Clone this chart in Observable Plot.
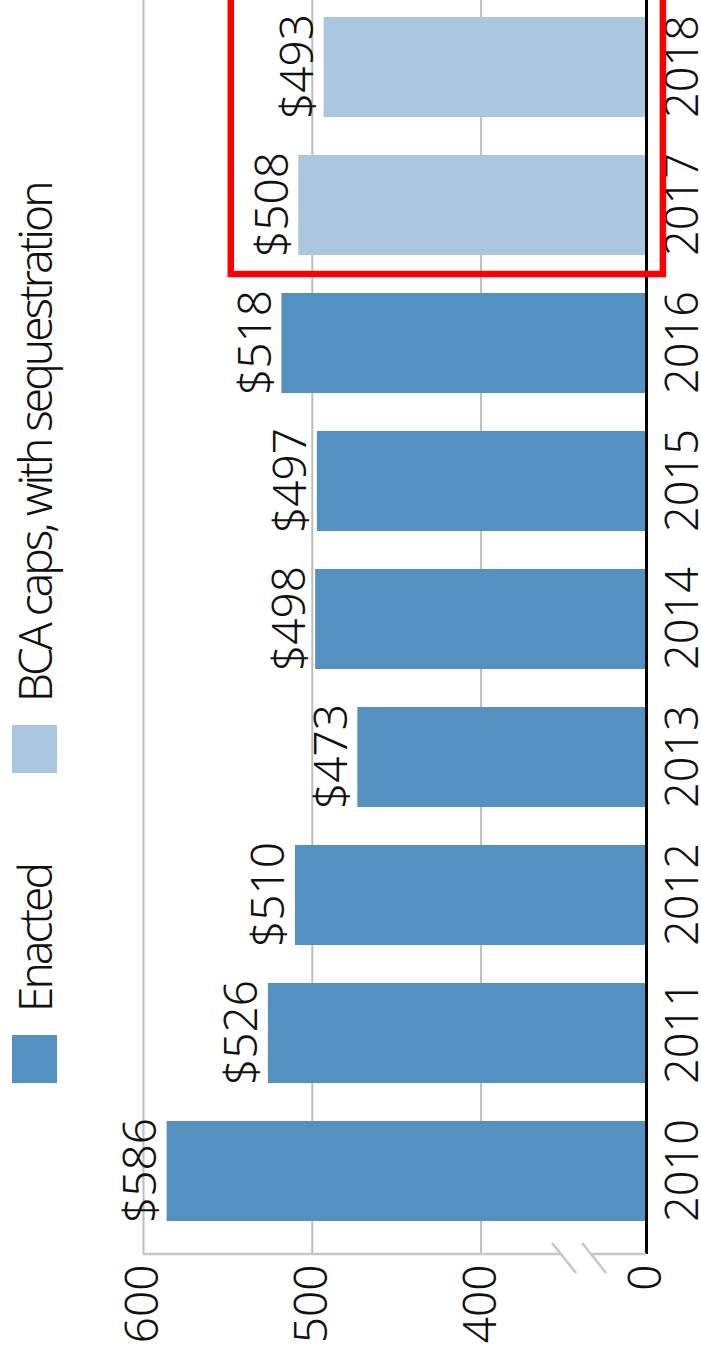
<!DOCTYPE html>
<html>
<head>
<meta charset="utf-8">
<script src="https://cdn.jsdelivr.net/npm/d3@7"></script>
<script src="https://cdn.jsdelivr.net/npm/@observablehq/plot@0.6"></script>
<style>
  html, body { margin: 0; padding: 0; background: #fff; }
  body { width: 701px; height: 1358px; overflow: hidden; position: relative; }
  #wrap {
    position: absolute; left: 0; top: 0; width: 1358px; height: 701px;
    transform-origin: 0 0; transform: translate(0px, 1358px) rotate(-90deg);
    font-family: "Noto Sans", sans-serif; font-stretch: condensed; font-weight: 300;
    color: #111;
  }
  #wrap svg text { font-stretch: condensed; font-weight: 300; }
  #legend { position: relative; height: 70px; }
  .item { position: absolute; top: 12px; display: flex; align-items: center; height: 45px; }
  .sw { width: 48px; height: 45px; margin-right: 23px; }
  .lab { font-size: 46px; line-height: 45px; white-space: nowrap; letter-spacing: -3px; }
</style>
</head>
<body>
<div id="wrap">
  <div id="legend"></div>
  <div id="chart"></div>
</div>
<script>
// ---- data ----
const years = ["2010", "2011", "2012", "2013", "2014", "2015", "2016", "2017", "2018"];
const values = [586, 526, 510, 473, 498, 497, 518, 508, 493];
const status = ["Enacted", "Enacted", "Enacted", "Enacted", "Enacted", "Enacted", "Enacted",
                "BCA caps, with sequestration", "BCA caps, with sequestration"];
const seriesNames = ["Enacted", "BCA caps, with sequestration"];
const seriesColors = ["#5591c0", "#aac7df"];
const yTickValues = [0, 400, 500, 600];
const gridValues = [400, 500, 600];
const axisFloor = 302;            // value where the broken axis starts (labelled 0)
const breakValues = [352.3, 334.5]; // axis-break slash positions
const highlightYears = ["2017", "2018"];
const highlightTop = 548;
const highlightBottom = 292;

const data = years.map((year, i) => ({year, value: values[i], status: status[i]}));

// ---- legend ----
const legendLeft = [275, 585];
const legend = d3.select("#legend");
seriesNames.forEach((name, i) => {
  const it = legend.append("div").attr("class", "item").style("left", legendLeft[i] + "px");
  it.append("div").attr("class", "sw").style("background", seriesColors[i]);
  it.append("div").attr("class", "lab").text(name);
});

// ---- chart ----
const font = '"Noto Sans", sans-serif';
const tickPos = yTickValues.map(v => v === 0 ? axisFloor : v);

const plot = Plot.plot({
  width: 1358,
  height: 631,
  marginLeft: 104,
  marginRight: 0,
  marginTop: 73,
  marginBottom: 55,
  style: {fontFamily: font, fontSize: "46px", background: "#fff", color: "#111", overflow: "visible"},
  x: {domain: years, range: [97, 1380], padding: 0.277, label: null},
  y: {domain: [axisFloor, 600], label: null},
  color: {domain: seriesNames, range: seriesColors},
  marks: [
    Plot.ruleY(gridValues, {stroke: "#bdbdbd", strokeWidth: 2}),
    Plot.barY(data, {x: "year", y1: axisFloor, y2: "value", fill: "status"}),
    Plot.ruleY([axisFloor], {stroke: "#000", strokeWidth: 3}),
    Plot.text(data, {x: "year", y: "value", text: d => "$" + d.value, lineAnchor: "bottom", dy: -11, fill: "#111", fontSize: 46}),
    Plot.axisX({tickSize: 0, tickPadding: 20, fontSize: 45, label: null}),
    Plot.axisY({ticks: tickPos, tickFormat: d => d === axisFloor ? "0" : String(d), tickSize: 0, tickPadding: 11, fontSize: 46, label: null})
  ]
});
document.getElementById("chart").appendChild(plot);

// ---- annotations using the plot's scales ----
const sx = plot.scale("x"), sy = plot.scale("y");
const svg = d3.select(plot);
const axisX = 104;
const g = svg.append("g");
// broken vertical axis line
g.append("line").attr("x1", axisX).attr("x2", axisX)
  .attr("y1", sy.apply(600)).attr("y2", sy.apply(breakValues[0]))
  .attr("stroke", "#c8c8c8").attr("stroke-width", 2.5);
g.append("line").attr("x1", axisX).attr("x2", axisX)
  .attr("y1", sy.apply(breakValues[1])).attr("y2", sy.apply(axisFloor))
  .attr("stroke", "#c8c8c8").attr("stroke-width", 2.5);
breakValues.forEach(v => {
  const yc = sy.apply(v);
  g.append("line").attr("x1", axisX + 11).attr("y1", yc - 9).attr("x2", axisX - 19).attr("y2", yc + 15)
    .attr("stroke", "#c8c8c8").attr("stroke-width", 2.5);
});
// red highlight box
const step = sx.step || 138.3, bw = sx.bandwidth || 100;
const hx = sx.apply(highlightYears[0]) - (step - bw) / 2;
const hy1 = sy.apply(highlightTop), hy2 = sy.apply(highlightBottom);
svg.append("rect").attr("x", hx).attr("y", hy1).attr("width", 1450 - hx).attr("height", hy2 - hy1)
  .attr("fill", "none").attr("stroke", "#ff0000").attr("stroke-width", 6.5);
</script>
</body>
</html>
